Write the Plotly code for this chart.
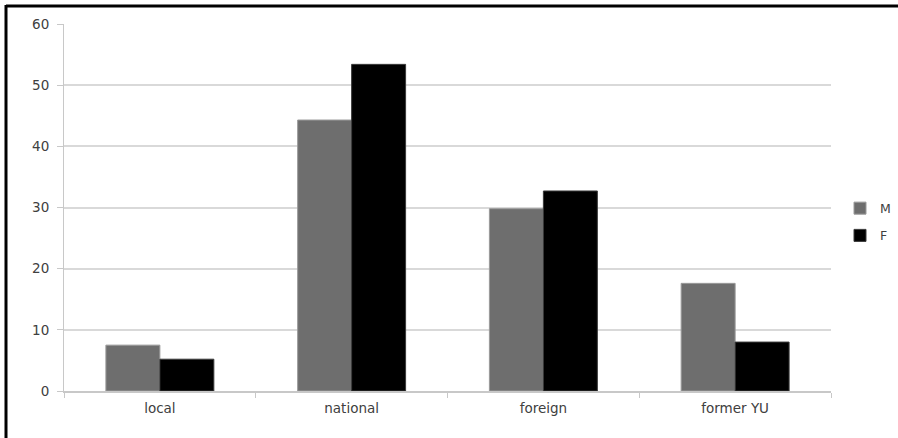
import plotly.graph_objects as go

# Survey shares (%) by scope, split by sex
categories = ["local", "national", "foreign", "former YU"]
male = [7.5, 44.3, 29.8, 17.6]
female = [5.2, 53.4, 32.7, 8.0]
y_ticks = [0, 10, 20, 30, 40, 50, 60]

W, H = 898, 438
L, R, T, B = 64, 67, 24, 47
pw, ph = W - L - R, H - T - B

font = dict(family="DejaVu Sans, Liberation Sans, sans-serif", size=13.5, color="#404040")

fig = go.Figure()
fig.add_trace(go.Bar(
    name="M", x=categories, y=male, legendgroup="m",
    marker=dict(color="#6e6e6e", line=dict(color="#9a9a9a", width=1)),
))
fig.add_trace(go.Bar(
    name="F", x=categories, y=female, legendgroup="f",
    marker=dict(color="#000000", line=dict(color="#3a3a3a", width=1)),
))

# Frame lines along the top and left edge of the image
fig.add_shape(type="line", xref="paper", yref="paper",
              x0=-(L - 6) / pw, x1=(W - L) / pw,
              y0=1 + (T - 6) / ph, y1=1 + (T - 6) / ph,
              line=dict(color="black", width=3))
fig.add_shape(type="line", xref="paper", yref="paper",
              x0=-(L - 6) / pw, x1=-(L - 6) / pw,
              y0=1 + (T - 5) / ph, y1=-(B) / ph,
              line=dict(color="black", width=3))

fig.update_layout(
    width=W, height=H,
    margin=dict(l=L, r=R, t=T, b=B, autoexpand=False),
    paper_bgcolor="white", plot_bgcolor="white",
    barmode="group", bargap=0.437, bargroupgap=0,
    font=font,
    showlegend=True,
    legend=dict(
        xref="container", yref="container",
        x=840 / W, xanchor="left", y=1 - 222 / H, yanchor="middle",
        font=dict(size=12.5, color="#404040"),
        itemwidth=30, traceorder="grouped", tracegroupgap=8,
        bgcolor="rgba(0,0,0,0)",
    ),
    xaxis=dict(
        type="category", tickson="boundaries",
        ticks="outside", ticklen=5, tickcolor="#c8c8c8",
        showline=True, linecolor="#c8c8c8", linewidth=1.5,
        showgrid=False, tickfont=font, ticklabelstandoff=4,
    ),
    yaxis=dict(
        range=[0, 60], tickvals=y_ticks,
        ticks="outside", ticklen=6, tickcolor="#c8c8c8",
        showline=True, linecolor="#c8c8c8", linewidth=1,
        showgrid=True, gridcolor="#d9d9d9", gridwidth=1.5,
        zeroline=False, tickfont=font, ticklabelstandoff=5,
    ),
)

fig.write_html("out.html")
